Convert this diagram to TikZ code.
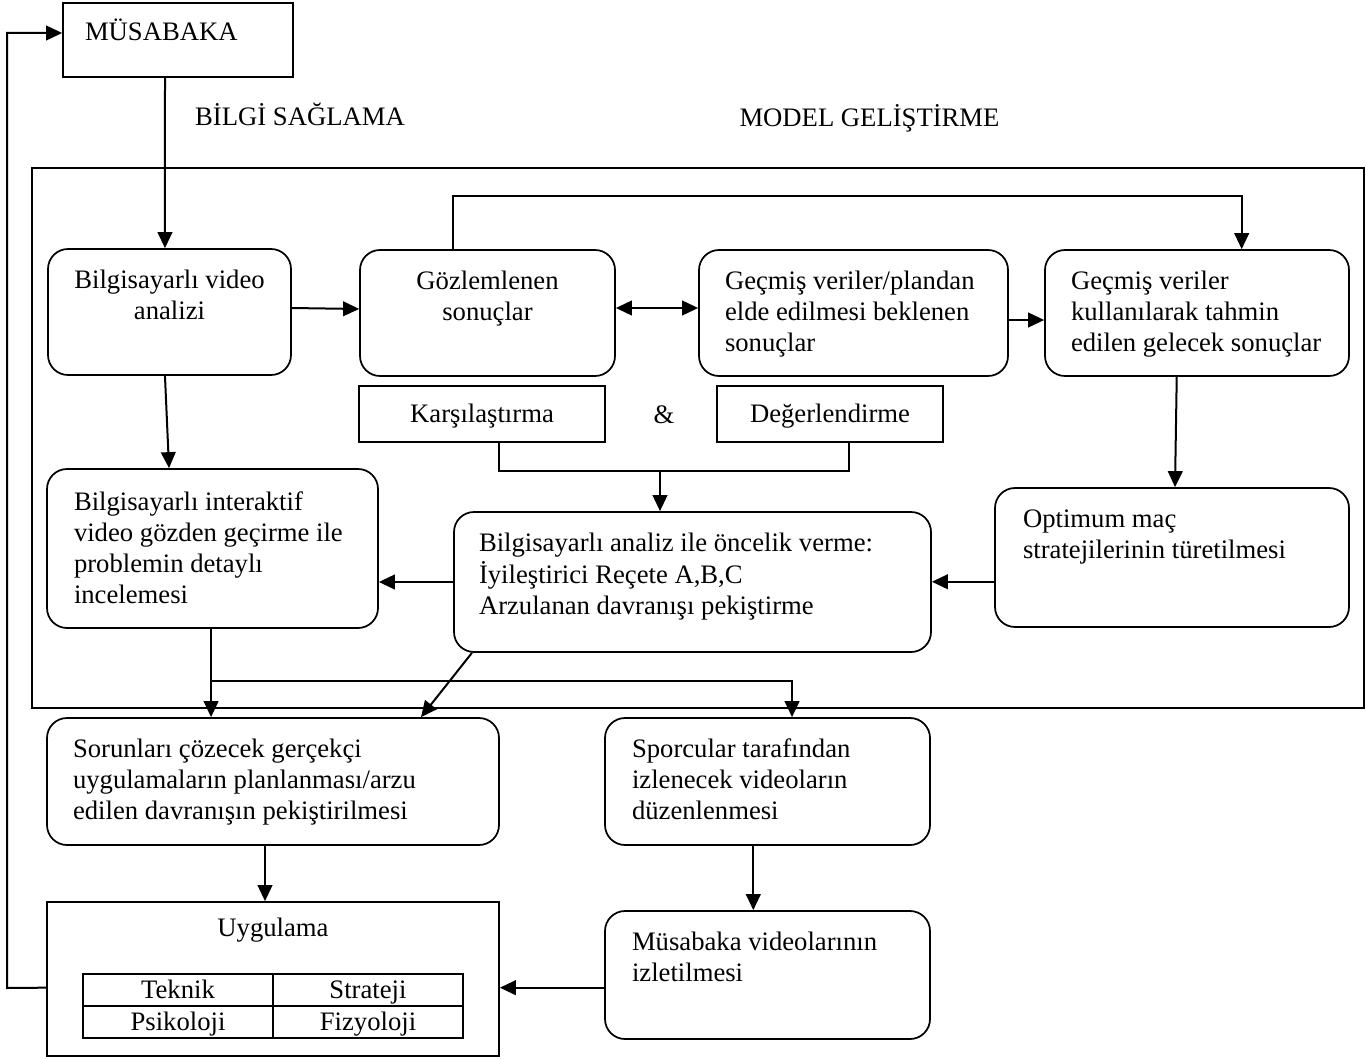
\documentclass[tikz,border=0pt]{standalone}
\usepackage{fontspec}
\setmainfont{Liberation Serif}
\usetikzlibrary{arrows.meta}
\newcommand\fs{\fontsize{20pt}{23.25pt}\selectfont}
% #1 height, #2 text width, #3 top pad, #4 column (l/c), #5 lines
\newcommand\btext[5]{\parbox[c][#1][t]{#2}{\vspace*{#3}\ifx c#4\centering\fi\noindent\begin{tabular}[t]{@{}#4@{}}#5\end{tabular}}}
\tikzset{
  base/.style={draw, line width=1.3pt, inner sep=0pt, font=\fs},
  rbox/.style={base, rounded corners=15pt},
  sbox/.style={base},
  cell/.style={base, text height=15pt, text depth=3pt, minimum width=142.5pt, minimum height=24pt},
  lbl/.style={inner sep=0pt, font=\fs, anchor=base},
  ln/.style={line width=1.5pt},
  arr/.style={line width=1.5pt, -{Triangle[length=12pt,width=11pt]}},
  darr/.style={line width=1.5pt, {Triangle[length=12pt,width=11pt]}-{Triangle[length=12pt,width=11pt]}},
}
\begin{document}
\begin{tikzpicture}[x=0.75pt,y=-0.75pt]
\useasboundingbox (0,0) rectangle (1366,1059);

% outer frame
\node[sbox, minimum width=999pt, minimum height=405pt] (outer) at (698,438) {};

% headings
\node[lbl] (bilgi) at (300,126) {BİLGİ SAĞLAMA};
\node[lbl] (model) at (869.5,126.5) {MODEL GELİŞTİRME};

% boxes
\node[sbox, minimum width=172.5pt, minimum height=55.5pt] (MUS) at (178,40)
  {\btext{55.5pt}{139.5pt}{12pt}{l}{MÜSABAKA}};
\node[rbox, minimum width=182.25pt, minimum height=94.5pt] (A) at (169.5,312)
  {\btext{94.5pt}{170pt}{13.7pt}{c}{Bilgisayarlı video\\analizi}};
\node[rbox, minimum width=191.25pt, minimum height=94.5pt] (B) at (487.5,313)
  {\btext{94.5pt}{180pt}{13.7pt}{c}{Gözlemlenen\\sonuçlar}};
\node[rbox, minimum width=231.75pt, minimum height=94.5pt] (C) at (853.5,313)
  {\btext{94.5pt}{192.75pt}{13.7pt}{l}{Geçmiş veriler/plandan\\elde edilmesi beklenen\\sonuçlar}};
\node[rbox, minimum width=228pt, minimum height=94.5pt] (D) at (1197,313)
  {\btext{94.5pt}{189pt}{13.7pt}{l}{Geçmiş veriler\\kullanılarak tahmin\\edilen gelecek sonuçlar}};
\node[sbox, minimum width=184.5pt, minimum height=42pt, text height=15pt, text depth=3pt] (KAR) at (482,414) {Karşılaştırma};
\node[sbox, minimum width=169.5pt, minimum height=42pt, text height=15pt, text depth=3pt] (DEG) at (830,414) {Değerlendirme};
\node[lbl] (amp) at (664,423) {\&};
\node[rbox, minimum width=357.75pt, minimum height=105pt] (E) at (692.5,582)
  {\btext{105pt}{320.25pt}{13.7pt}{l}{Bilgisayarlı analiz ile öncelik verme:\\İyileştirici Reçete A,B,C\\Arzulanan davranışı pekiştirme}};
\node[rbox, minimum width=265.5pt, minimum height=104.25pt] (F) at (1172,557.5)
  {\btext{104.25pt}{223.5pt}{13.7pt}{l}{Optimum maç\\stratejilerinin türetilmesi}};
\node[rbox, minimum width=248.25pt, minimum height=119.25pt] (G) at (212.5,548.5)
  {\btext{119.25pt}{207.75pt}{15.2pt}{l}{Bilgisayarlı interaktif\\video gözden geçirme ile\\problemin detaylı\\incelemesi}};
\node[rbox, minimum width=339pt, minimum height=95.25pt] (H) at (273,781.5)
  {\btext{95.25pt}{300pt}{13pt}{l}{Sorunları çözecek gerçekçi\\uygulamaların planlanması/arzu\\edilen davranışın pekiştirilmesi}};
\node[rbox, minimum width=243.75pt, minimum height=95.25pt] (I) at (767.5,781.5)
  {\btext{95.25pt}{203.25pt}{13pt}{l}{Sporcular tarafından\\izlenecek videoların\\düzenlenmesi}};
\node[rbox, minimum width=243.75pt, minimum height=96pt] (J) at (767.5,975)
  {\btext{96pt}{203.25pt}{13pt}{l}{Müsabaka videolarının\\izletilmesi}};
\node[sbox, minimum width=339pt, minimum height=115.5pt] (UYG) at (273,979)
  {\btext{115.5pt}{320pt}{9.45pt}{c}{Uygulama}};

% inner table
\node[cell] (t1) at (178,990) {Teknik};
\node[cell] (t2) at (368,990) {Strateji};
\node[cell] (t3) at (178,1022) {Psikoloji};
\node[cell] (t4) at (368,1022) {Fizyoloji};

% connectors
\draw[arr] ([xshift=-9.75pt]MUS.south) -- ([xshift=-3.4pt]A.north);
\draw[arr] ([yshift=3pt]A.east) -- ([yshift=3pt]B.west);
\draw[darr] ([yshift=3.75pt]B.east) -- ([yshift=3.75pt]C.west);
\draw[arr] ([yshift=-5.25pt]C.east) -- ([yshift=-5.25pt]D.west);
\draw[arr] ([xshift=-25.9pt]B.north) -- ++(0,-53) -| ([xshift=33.5pt]D.north);

\draw[ln] ([xshift=12.75pt]KAR.south) -- ++(0,28) -| ([xshift=14.25pt]DEG.south);
\coordinate (jn) at (660,470);
\draw[arr] (jn) -- (jn |- E.north);

\draw[arr] ([xshift=-15.2pt]D.south) -- ([xshift=2.25pt]F.north);
\coordinate (fe) at ([yshift=-18.2pt]F.west);
\draw[arr] (fe) -- (fe -| E.east);
\draw[arr] (E.west) -- (E.west -| G.east);
\draw[arr] ([xshift=-3.4pt]A.south) -- ([xshift=-32.6pt]G.north);

\coordinate (gs) at ([xshift=-1.1pt]G.south);
\draw[arr] (gs) -- (gs |- H.north);
\coordinate (br) at (211,681);
\draw[arr] (br) -| ([xshift=18.4pt]I.north);
\draw[arr] ([xshift=14.1pt]E.south west) -- ([xshift=111pt]H.north);

\coordinate (hs) at ([xshift=-6pt]H.south);
\draw[arr] (hs) -- (hs |- UYG.north);
\coordinate (is) at ([xshift=-10.65pt]I.south);
\draw[arr] (is) -- (is |- J.north);
\coordinate (jw) at ([yshift=-9.5pt]J.west);
\draw[arr] (jw) -- (jw -| UYG.east);

\coordinate (uw) at (jw -| UYG.west);
\coordinate (fb1) at (7,988);
\coordinate (fb2) at (7,33);
\draw[arr] (uw) -- (fb1) -- (fb2) -- (fb2 -| MUS.west);
\end{tikzpicture}
\end{document}
